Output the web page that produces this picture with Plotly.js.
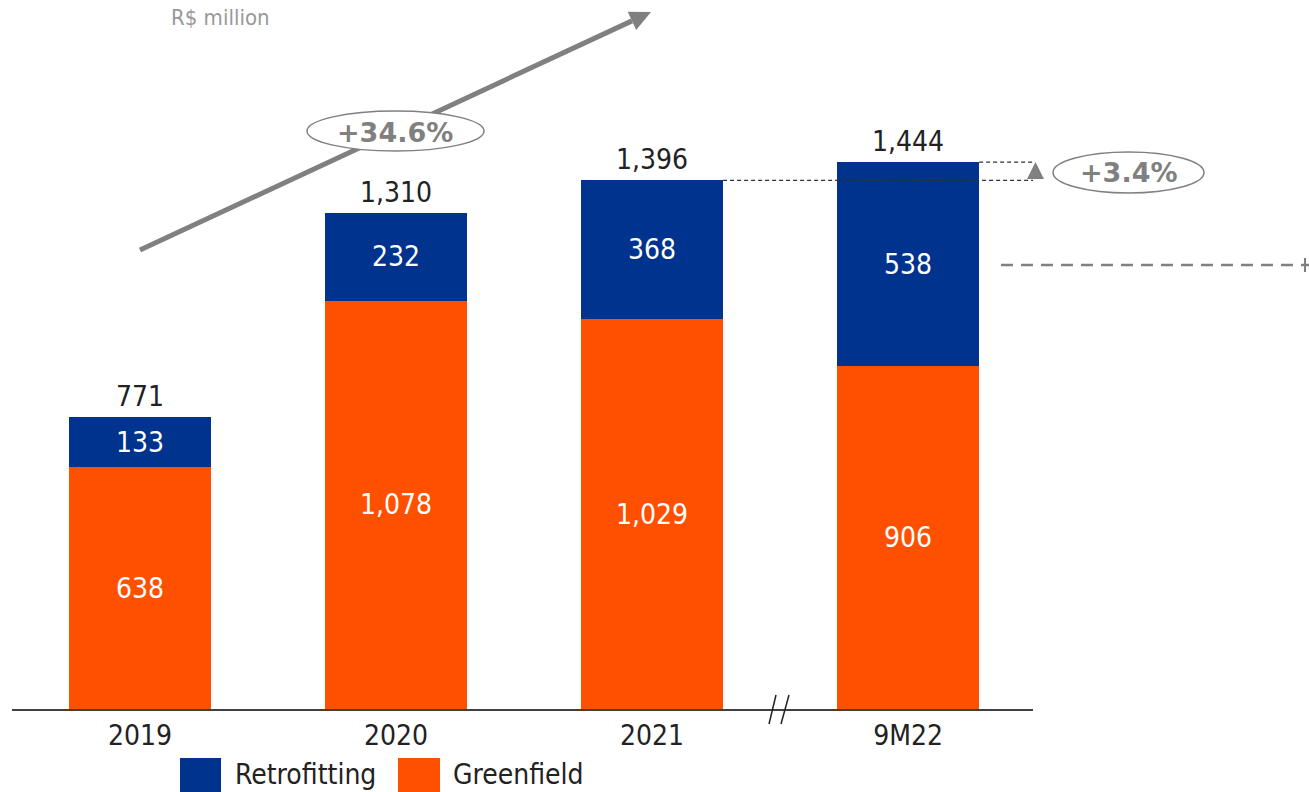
<!DOCTYPE html>
<html>
<head>
<meta charset="utf-8">
<script src="https://cdn.plot.ly/plotly-3.0.1.min.js"></script>
<style>html,body{margin:0;padding:0;background:#fff;}#chart{width:1309px;height:792px;}</style>
</head>
<body>
<div id="chart"></div>
<script>
const categories = ["2019", "2020", "2021", "9M22"];
const greenfield = [638, 1078, 1029, 906];
const retrofitting = [133, 232, 368, 538];
const totals = [771, 1310, 1396, 1444];
const cagrLabel = "+34.6%";
const growthLabel = "+3.4%";
const unitLabel = "R$ million";

const W = 1309, H = 792;
const M = {l: 12, r: 276, t: 10, b: 83};
const PW = W - M.l - M.r, PH = H - M.t - M.b;
const px = x => (x - M.l) / PW;
const py = y => (H - M.b - y) / PH;

const FONT = "DejaVu Sans Condensed, DejaVu Sans, sans-serif";
const BOLD = "DejaVu Sans, sans-serif";
const BLUE = "#00338D", ORANGE = "#FF5000", GRAY = "#808080", DARK = "#222222";
const barW = 0.555;

const traces = [
  {type: "bar", name: "Greenfield", x: categories, y: greenfield, width: barW,
   marker: {color: ORANGE}, texttemplate: "%{y:,.0f}", textposition: "inside",
   insidetextanchor: "middle", textangle: 0, textfont: {family: FONT, size: 28, color: "#ffffff"},
   hoverinfo: "skip"},
  {type: "bar", name: "Retrofitting", x: categories, y: retrofitting, width: barW,
   marker: {color: BLUE}, texttemplate: "%{y:,.0f}", textposition: "inside",
   insidetextanchor: "middle", textangle: 0, textfont: {family: FONT, size: 28, color: "#ffffff"},
   hoverinfo: "skip"}
];

// category axis: annotations placed by category index
const annotations = totals.map((t, i) => ({
  x: i, y: t, xref: "x", yref: "y", text: t.toLocaleString("en-US"),
  showarrow: false, yanchor: "bottom", yshift: 2, font: {family: FONT, size: 28, color: DARK}
}));

annotations.push(
  {xref: "paper", yref: "paper", x: px(220), y: py(17), text: unitLabel, showarrow: false,
   xanchor: "center", yanchor: "middle", font: {family: FONT, size: 22, color: "#999999"}},
  {xref: "paper", yref: "paper", x: px(395), y: py(132), text: "<b>" + cagrLabel + "</b>", showarrow: false,
   xanchor: "center", yanchor: "middle", font: {family: BOLD, size: 27, color: GRAY}},
  {xref: "paper", yref: "paper", x: px(1129), y: py(172), text: "<b>" + growthLabel + "</b>", showarrow: false,
   xanchor: "center", yanchor: "middle", font: {family: BOLD, size: 27, color: GRAY}},
  {xref: "paper", yref: "paper", x: px(233), y: py(774), text: "Retrofitting", showarrow: false,
   xanchor: "left", yanchor: "middle", font: {family: FONT, size: 28, color: DARK}},
  {xref: "paper", yref: "paper", x: px(451), y: py(774), text: "Greenfield", showarrow: false,
   xanchor: "left", yanchor: "middle", font: {family: FONT, size: 28, color: DARK}}
);

// arrow geometry (decoration)
const tip = [651, 12], tail = [140, 250];
const dx = tip[0] - tail[0], dy = tip[1] - tail[1], len = Math.hypot(dx, dy);
const ux = dx / len, uy = dy / len, hl = 21, hw = 10;
const bc = [tip[0] - hl * ux, tip[1] - hl * uy];
const p1 = [bc[0] - hw * uy, bc[1] + hw * ux], p2 = [bc[0] + hw * uy, bc[1] - hw * ux];
const path = pts => "M" + pts.map(p => px(p[0]) + "," + py(p[1])).join(" L") + " Z";

const edge = barW / 2;
const shapes = [
  {type: "line", xref: "paper", yref: "paper", x0: px(tail[0]), y0: py(tail[1]), x1: px(bc[0]), y1: py(bc[1]),
   line: {color: GRAY, width: 5}},
  {type: "path", xref: "paper", yref: "paper", path: path([tip, p1, p2]), fillcolor: GRAY, line: {width: 0}},
  {type: "circle", xref: "paper", yref: "paper", x0: px(307), x1: px(484), y0: py(151), y1: py(111),
   fillcolor: "#ffffff", line: {color: GRAY, width: 1.5}},
  {type: "circle", xref: "paper", yref: "paper", x0: px(1053), x1: px(1204), y0: py(193), y1: py(152),
   fillcolor: "#ffffff", line: {color: GRAY, width: 1.5}},
  {type: "line", xref: "x", yref: "y", x0: 2 + edge, x1: 3.527, y0: totals[2], y1: totals[2],
   line: {color: "#333333", width: 1.2, dash: "4px,3px"}},
  {type: "line", xref: "x", yref: "y", x0: 3 + edge, x1: 3.527, y0: totals[3], y1: totals[3],
   line: {color: "#333333", width: 1.2, dash: "4px,3px"}},
  {type: "path", xref: "paper", yref: "paper", path: path([[1035.5, 162], [1044, 179], [1027, 179]]),
   fillcolor: GRAY, line: {width: 0}},
  {type: "line", xref: "paper", yref: "paper", x0: px(1001), x1: px(1309), y0: py(265), y1: py(265),
   line: {color: GRAY, width: 2.5, dash: "12px,8px"}},
  {type: "line", xref: "paper", yref: "paper", x0: px(1305), x1: px(1305), y0: py(258), y1: py(272),
   line: {color: GRAY, width: 2}},
  {type: "line", xref: "paper", yref: "paper", x0: px(776), x1: px(769), y0: py(695), y1: py(724),
   line: {color: DARK, width: 1.5}},
  {type: "line", xref: "paper", yref: "paper", x0: px(789), x1: px(781), y0: py(695), y1: py(724),
   line: {color: DARK, width: 1.5}},
  {type: "rect", xref: "paper", yref: "paper", x0: px(180), x1: px(221), y0: py(800), y1: py(758),
   fillcolor: BLUE, line: {width: 0}},
  {type: "rect", xref: "paper", yref: "paper", x0: px(398), x1: px(440), y0: py(800), y1: py(758),
   fillcolor: ORANGE, line: {width: 0}}
];

const layout = {
  width: W, height: H,
  margin: M,
  paper_bgcolor: "#ffffff", plot_bgcolor: "#ffffff",
  barmode: "stack",
  showlegend: false,
  xaxis: {type: "category", range: [-0.5, 3.488], showgrid: false, zeroline: false,
          showline: true, linecolor: "#404040", linewidth: 2, ticks: "",
          tickfont: {family: FONT, size: 28, color: DARK}, fixedrange: true},
  yaxis: {range: [0, PH / 0.3787], visible: false, showgrid: false, zeroline: false, fixedrange: true},
  annotations: annotations,
  shapes: shapes,
  font: {family: FONT}
};

Plotly.newPlot("chart", traces, layout, {displayModeBar: false, staticPlot: true});
</script>
</body>
</html>
